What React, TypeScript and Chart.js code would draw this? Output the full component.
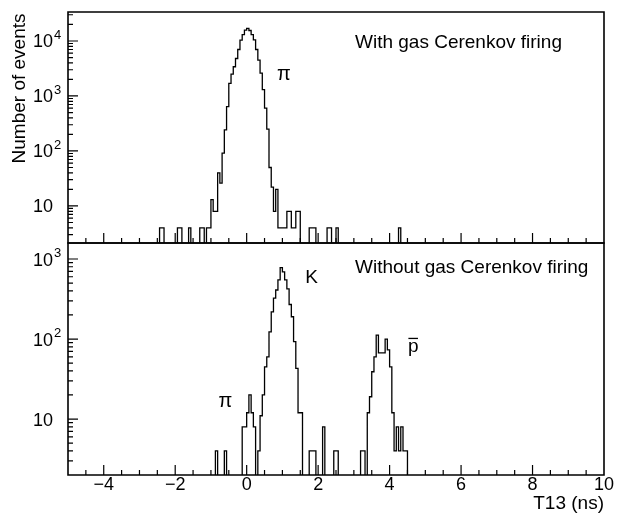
import React, { useEffect, useRef } from "react";
import { Chart, registerables } from "chart.js";

Chart.register(...registerables);

const WIDTH = 617;
const HEIGHT = 515;

// Histogram binning (ns)
const BIN_WIDTH = 0.0625;
const X_MIN = -5;
const X_MAX = 10;
const EMPTY_BIN = 1; // empty bins sit below the visible log range

const xTickValues = [-4, -2, 0, 2, 4, 6, 8, 10];
const xTickLabels = ["\u22124", "\u22122", "0", "2", "4", "6", "8", "10"];

const withDecades = [10, 100, 1000, 10000];
const withExponents = ["", "2", "3", "4"];
const withoutDecades = [10, 100, 1000];
const withoutExponents = ["", "2", "3"];

// With gas Cerenkov firing: pion peak (left bin edge + counts per bin)
const withPionStart = -1.125;
const withPionCounts = [
  4, 4, 13, 8, 8, 40, 26, 91, 242, 640, 1700, 2500, 3400, 4800, 7000, 10400,
  13000, 15800, 17000, 15500, 13000, 10500, 7000, 4500, 2600, 1300, 600, 250,
  50, 22, 8, 20, 4, 4, 4, 4, 8, 8, 4, 4, 8, 8,
];
const withStrayEdges = [
  -2.4375, -2.375, -1.9375, -1.875, -1.625, -1.3125, -1.25, 1.75, 1.8125,
  1.875, 2.25, 2.3125, 2.5, 4.25,
];
const withStrayCounts = [4, 4, 4, 4, 4, 4, 4, 4, 4, 4, 4, 4, 4, 4];

// Without gas Cerenkov firing: pion, kaon and antiproton peaks
const withoutPionStart = -0.125;
const withoutPionCounts = [8, 8, 12, 20, 12, 8];
const kaonStart = 0.3125;
const kaonCounts = [
  4, 11, 20, 45, 60, 123, 218, 325, 410, 550, 780, 690, 550, 424, 270, 190, 93,
  43, 12, 12,
];
const antiprotonStart = 3.375;
const antiprotonCounts = [
  12, 19, 39, 60, 112, 67, 67, 67, 100, 73, 45, 12, 4, 8, 4, 8, 4, 4,
];
const withoutStrayEdges = [
  -0.875, -0.625, 1.75, 1.8125, 1.875, 2.125, 2.4375, 2.5, 3.1875, 3.25,
];
const withoutStrayCounts = [4, 4, 4, 4, 4, 8, 4, 4, 4, 4];

type Run = { start: number; counts: number[] };

function strayRuns(edges: number[], counts: number[]): Run[] {
  return edges.map((e, i) => ({ start: e, counts: [counts[i]] }));
}

function fillBins(runs: Run[]): number[] {
  const n = Math.round((X_MAX - X_MIN) / BIN_WIDTH);
  const bins = new Array(n).fill(0);
  for (const r of runs) {
    const k0 = Math.round((r.start - X_MIN) / BIN_WIDTH);
    r.counts.forEach((c, i) => {
      const k = k0 + i;
      if (k >= 0 && k < n) bins[k] = c;
    });
  }
  return bins;
}

function stepPoints(bins: number[]) {
  const pts: { x: number; y: number }[] = [{ x: X_MIN, y: EMPTY_BIN }];
  bins.forEach((c, k) => {
    pts.push({ x: X_MIN + k * BIN_WIDTH, y: c > 0 ? c : EMPTY_BIN });
  });
  pts.push({ x: X_MAX, y: EMPTY_BIN });
  return pts;
}

const FONT = '"Liberation Sans", Arial, Helvetica, sans-serif';

type Mark = { text: string; x: number; y: number; size: number; bar?: boolean };

type PanelSpec = {
  runs: Run[];
  yMin: number;
  yMax: number;
  padding: { left: number; right: number; top: number; bottom: number };
  decades: number[];
  exponents: string[];
  title: string;
  titleBaseline: number;
  xLabels: boolean;
  yTitle: boolean;
  marks: Mark[];
};

const panels: PanelSpec[] = [
  {
    runs: [
      { start: withPionStart, counts: withPionCounts },
      ...strayRuns(withStrayEdges, withStrayCounts),
    ],
    yMin: 2.12,
    yMax: 33650,
    padding: { left: 68, right: 13, top: 12, bottom: 272 },
    decades: withDecades,
    exponents: withExponents,
    title: "With gas Cerenkov firing",
    titleBaseline: 48,
    xLabels: false,
    yTitle: true,
    marks: [{ text: "\u03c0", x: 1.045, y: 1950, size: 20 }],
  },
  {
    runs: [
      { start: withoutPionStart, counts: withoutPionCounts },
      { start: kaonStart, counts: kaonCounts },
      { start: antiprotonStart, counts: antiprotonCounts },
      ...strayRuns(withoutStrayEdges, withoutStrayCounts),
    ],
    yMin: 2.0,
    yMax: 1585,
    padding: { left: 68, right: 13, top: 243, bottom: 40 },
    decades: withoutDecades,
    exponents: withoutExponents,
    title: "Without gas Cerenkov firing",
    titleBaseline: 273,
    xLabels: true,
    yTitle: false,
    marks: [
      { text: "K", x: 1.82, y: 500, size: 19 },
      { text: "\u03c0", x: -0.594, y: 14, size: 20 },
      { text: "p", x: 4.66, y: 69, size: 19, bar: true },
    ],
  },
];

function framePlugin(spec: PanelSpec) {
  return {
    id: "frame",
    afterDatasetsDraw(chart: any) {
      const { ctx, chartArea: a, scales } = chart;
      const xs = scales.x;
      const ys = scales.y;
      ctx.save();
      ctx.strokeStyle = "#000";
      ctx.fillStyle = "#000";

      // frame
      ctx.lineWidth = 1.6;
      ctx.beginPath();
      ctx.rect(a.left, a.top, a.right - a.left, a.bottom - a.top);
      ctx.stroke();

      // x ticks, pointing into the panel
      ctx.lineWidth = 1.2;
      ctx.beginPath();
      for (let v = X_MIN + 0.5; v < X_MAX - 1e-9; v += 0.5) {
        const px = xs.getPixelForValue(v);
        const len = Math.abs(v % 2) < 1e-9 ? 10 : 5;
        ctx.moveTo(px, a.bottom);
        ctx.lineTo(px, a.bottom - len);
      }
      // y ticks on the left axis
      for (let d = 1; d <= spec.yMax; d *= 10) {
        for (let m = 1; m <= 9; m++) {
          const v = m * d;
          if (v <= spec.yMin || v >= spec.yMax) continue;
          const py = ys.getPixelForValue(v);
          const len = m === 1 ? 10 : 5;
          ctx.moveTo(a.left, py);
          ctx.lineTo(a.left + len, py);
        }
      }
      ctx.stroke();

      // y tick labels: 10, 10^2, ...
      spec.decades.forEach((d, i) => {
        const py = ys.getPixelForValue(d);
        ctx.font = `18px ${FONT}`;
        ctx.textAlign = "left";
        ctx.textBaseline = "alphabetic";
        ctx.fillText("10", 33, py + 6.5);
        if (spec.exponents[i]) {
          ctx.font = `13px ${FONT}`;
          ctx.fillText(spec.exponents[i], 54, py - 2);
        }
      });

      // x tick labels
      if (spec.xLabels) {
        ctx.font = `18px ${FONT}`;
        ctx.textAlign = "center";
        ctx.textBaseline = "alphabetic";
        xTickValues.forEach((v, i) => {
          ctx.fillText(xTickLabels[i], xs.getPixelForValue(v), 490);
        });
        ctx.font = `19px ${FONT}`;
        ctx.textAlign = "right";
        ctx.fillText("T13 (ns)", a.right, 509);
      }

      // y axis title
      if (spec.yTitle) {
        ctx.save();
        ctx.translate(25, 88.5);
        ctx.rotate(-Math.PI / 2);
        ctx.font = `19px ${FONT}`;
        ctx.textAlign = "center";
        ctx.textBaseline = "alphabetic";
        ctx.fillText("Number of events", 0, 0);
        ctx.restore();
      }

      // panel title
      ctx.font = `19px ${FONT}`;
      ctx.textAlign = "left";
      ctx.textBaseline = "alphabetic";
      ctx.fillText(spec.title, 355, spec.titleBaseline);

      // particle labels
      spec.marks.forEach((m) => {
        const px = xs.getPixelForValue(m.x);
        const py = ys.getPixelForValue(m.y);
        ctx.font = `${m.size}px ${FONT}`;
        ctx.textAlign = "center";
        ctx.fillText(m.text, px, py);
        if (m.bar) {
          const w = ctx.measureText(m.text).width;
          ctx.lineWidth = 1.3;
          ctx.beginPath();
          ctx.moveTo(px - w / 2 + 0.5, py - 13.5);
          ctx.lineTo(px + w / 2 - 0.5, py - 13.5);
          ctx.stroke();
        }
      });

      ctx.restore();
    },
  };
}

function HistogramPanel({ spec }: { spec: PanelSpec }) {
  const ref = useRef<HTMLCanvasElement | null>(null);
  useEffect(() => {
    if (!ref.current) return;
    const points = stepPoints(fillBins(spec.runs));
    const chart = new Chart(ref.current, {
      type: "line",
      data: {
        datasets: [
          {
            data: points,
            stepped: true,
            borderColor: "#000",
            borderWidth: 1.3,
            pointRadius: 0,
            fill: false,
            tension: 0,
          },
        ],
      },
      options: {
        animation: false,
        responsive: false,
        events: [],
        layout: { padding: spec.padding },
        plugins: { legend: { display: false }, tooltip: { enabled: false } },
        scales: {
          x: { type: "linear", min: X_MIN, max: X_MAX, display: false },
          y: { type: "logarithmic", min: spec.yMin, max: spec.yMax, display: false },
        },
      },
      plugins: [framePlugin(spec)],
    } as any);
    return () => chart.destroy();
  }, [spec]);
  return (
    <canvas
      ref={ref}
      width={WIDTH}
      height={HEIGHT}
      style={{ position: "absolute", left: 0, top: 0, width: WIDTH, height: HEIGHT }}
    />
  );
}

export default function App() {
  return (
    <div
      style={{
        position: "fixed",
        left: 0,
        top: 0,
        width: WIDTH,
        height: HEIGHT,
        background: "#fff",
      }}
    >
      {panels.map((p, i) => (
        <HistogramPanel key={i} spec={p} />
      ))}
    </div>
  );
}
